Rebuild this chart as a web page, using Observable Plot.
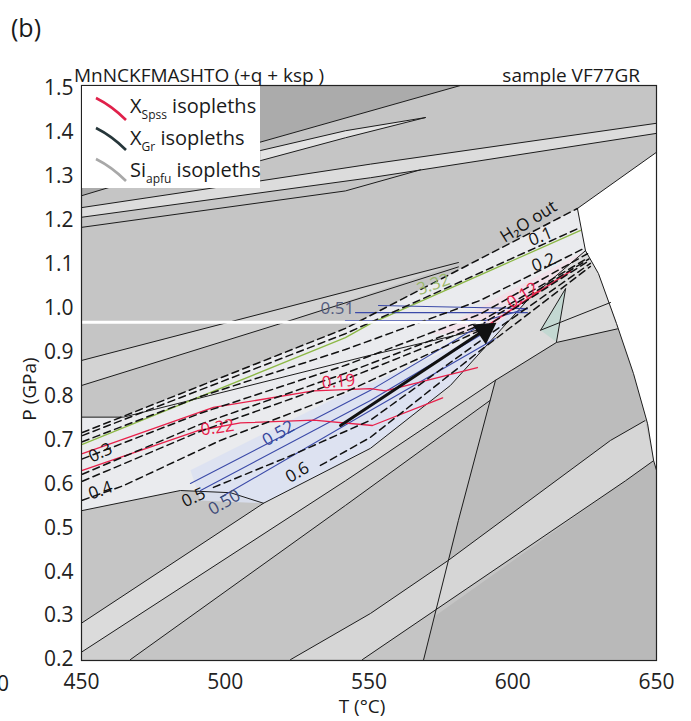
<!DOCTYPE html>
<html><head><meta charset="utf-8">
<script src="https://cdn.jsdelivr.net/npm/d3@7"></script>
<script src="https://cdn.jsdelivr.net/npm/@observablehq/plot@0.6"></script>
<style>
html,body{margin:0;padding:0;background:#fff;}
#chart{position:relative;width:691px;height:721px;overflow:hidden;}
</style></head><body><div id="chart"></div>
<script>
// ---- axes ----
const xTicks = [450, 500, 550, 600, 650];
const yTicks = [0.2, 0.3, 0.4, 0.5, 0.6, 0.7, 0.8, 0.9, 1.0, 1.1, 1.2, 1.3, 1.4, 1.5];

// ---- field polygons [T (°C), P (GPa)] ----
const fieldDark   = [[450,1.507],[581.8,1.507],[511.6,1.377],[450,1.256]];
const fieldLens   = [[512.3,1.359],[541.8,1.404],[569.6,1.434],[541.8,1.388],[512.3,1.336]];
const fieldBand   = [[450,1.229],[512.3,1.290],[550.5,1.328],[650,1.421],[650,1.398],[550.5,1.297],[450,1.207]];
const fieldMBand  = [[450,0.881],[581.1,1.102],[519.2,0.965],[450,0.824]];
const fieldLight  = [[450,0.539],[450,0.752],[463.7,0.752],[541.8,0.954],[622.5,1.227],[625.3,1.131],[605.1,1.018],[578.3,0.824],[550.5,0.681],[513.3,0.556],[501.8,0.580],[484.4,0.585]];
const tintBlue    = [[487.9,0.631],[536.6,0.790],[588.8,0.937],[605.1,1.018],[578.3,0.824],[550.5,0.681],[513.3,0.556],[491.4,0.562]];
const tintPink    = [[572,0.942],[600,1.043],[625.3,1.131],[605.1,1.018],[590,0.942]];
const fieldLowBand= [[450,0.283],[513.3,0.556],[550.5,0.681],[578.3,0.824],[605.1,1.018],[625.3,1.131],[629.8,1.079],[636.4,0.953],[615.2,0.922],[594,0.836],[541.8,0.607],[450,0.217]];
const fieldMid    = [[450,0.2],[450,0.217],[541.8,0.607],[594,0.836],[592.1,0.790],[541.8,0.551],[467,0.2]];
const fieldRDark  = [[594,0.836],[581.1,0.517],[577.6,0.426],[634,0.699],[646,0.744],[642,0.851],[636.4,0.953],[615.2,0.922]];
const fieldLRBand = [[522.7,0.2],[550.5,0.305],[577.6,0.426],[634,0.699],[646,0.744],[649,0.653],[639.2,0.607],[547.7,0.2]];
const fieldLRDark = [[569,0.2],[573.1,0.300],[639.2,0.607],[649,0.653],[650,0.631],[650,0.2]];
const fieldTeal   = [[609.7,0.950],[618.4,1.045],[615.2,0.923]];
const fieldWhite  = [[622.5,1.227],[650,1.355],[650,0.631],[649,0.653],[646.9,0.737],[642,0.851],[636.1,0.965],[629.8,1.079],[625.3,1.131]];

// ---- solid field boundaries ----
const bLine1  = [[450,1.256],[511.6,1.377],[581.8,1.507]];
const bLensU  = [[512.3,1.359],[541.8,1.404],[569.6,1.434]];
const bLensL  = [[512.3,1.336],[541.8,1.388],[569.6,1.434]];
const bBandU  = [[450,1.229],[512.3,1.290],[550.5,1.328],[650,1.421]];
const bBandL  = [[450,1.207],[550.5,1.297],[650,1.398]];
const bBand3  = [[450,1.184],[541.8,1.267],[567.9,1.315]];
const bWhiteT = [[622.5,1.227],[650,1.355]];
const bWhiteL = [[622.5,1.227],[625.3,1.131]];
const bCurve  = [[625.3,1.131],[629.8,1.079],[636.1,0.965],[642,0.851],[646.9,0.737],[649,0.653],[650,0.631]];
const bM1     = [[450,0.881],[581.1,1.104]];
const bM2     = [[450,0.824],[519.2,0.965],[581.1,1.094]];
const bM3     = [[450,0.752],[464.6,0.752],[550.5,0.893],[592.3,0.957]];
const bC      = [[450,0.539],[484.4,0.585],[501.8,0.580],[513.3,0.556]];
const bD1     = [[450,0.283],[513.3,0.556],[550.5,0.681],[578.3,0.824],[605.1,1.018],[625.3,1.131]];
const bD2     = [[450,0.217],[541.8,0.607],[594,0.836],[615.2,0.922],[636.4,0.953]];
const bD3     = [[467,0.2],[541.8,0.551],[592.1,0.790]];
const bS      = [[569,0.2],[581.1,0.517],[594,0.836]];
const bD4     = [[522.7,0.2],[550.5,0.305],[577.6,0.426],[634,0.699],[646,0.744]];
const bD5     = [[547.7,0.2],[639.2,0.607],[649,0.653]];
const bE2     = [[609.7,0.950],[634,1.013]];
const bTeal   = [[609.7,0.950],[618.4,1.045],[615.2,0.923]];

// ---- dashed H2O isopleths ----
const h2oOut = [[450.3,0.717],[541.8,0.954],[622.5,1.227]];
const h2o01  = [[450.3,0.710],[541.8,0.942],[623.6,1.184]];
const h2o02  = [[450.3,0.696],[491.4,0.799],[541.8,0.906],[588.8,1.018],[625.3,1.138]];
const h2o03  = [[450.3,0.657],[491.4,0.761],[541.8,0.870],[588.8,0.987],[626,1.124]];
const h2o03b = [[450.3,0.622],[491.4,0.736],[541.8,0.852],[588.8,0.970],[626.3,1.115]];
const h2o03c = [[450.3,0.606],[491.4,0.720],[541.8,0.838],[588.8,0.962],[626.5,1.112]];
const h2o04  = [[450.3,0.563],[464.6,0.596],[498.3,0.699],[541.8,0.809],[588.8,0.950],[626.7,1.109]];
const h2o05  = [[495.9,0.592],[522.7,0.664],[550.5,0.745],[588.8,0.926],[627,1.102]];
const h2o06  = [[533.1,0.642],[550.5,0.706],[588.8,0.904],[627,1.095]];

// ---- Si apfu (green), X_Gr (blue), X_Spss (red) ----
const si332  = [[450.3,0.690],[541.8,0.933],[550.5,0.965],[623.6,1.177]];
const gr52a  = [[487.9,0.601],[550.5,0.813],[590.5,0.968]];
const gr52b  = [[491.4,0.585],[550.5,0.790],[591.6,0.950]];
const gr52c  = [[498.3,0.569],[550.5,0.767],[594,0.931]];
const gr51a  = [[553.3,1.006],[605.1,0.999]];
const gr51b  = [[545.3,0.990],[605.1,0.990]];
const gr51c  = [[541.8,0.972],[590.5,0.972],[605.1,0.999]];
const sp19   = [[450.3,0.669],[495.9,0.774],[530.7,0.812],[550.5,0.817],[555.7,0.812],[587.7,0.865]];
const sp22   = [[450.3,0.631],[490.3,0.721],[505.3,0.739],[530.7,0.745],[551.2,0.733],[575.6,0.796]];
const sp12   = [[588.8,0.950],[612.4,1.052],[620,1.084]];

// ---- P-T path ----
const ptPath = [[540.1,0.733],[591.0,0.954]];
const ptHead = [[590.3,0.949]];
const whiteStreakP = [0.968];
const whiteStreakT = [450, 590];

// ---- isopleth labels ----
const labText  = ["H₂O out","0.1","0.2","0.3","0.4","0.5","0.6","0.50","0.52","0.51","3.32","0.12","0.19","0.22"];
const labT     = [605.5,609.7,610.7,456.6,456.6,489,525.1,499.7,518.5,539,572.4,603.4,539.4,497.3];
const labP     = [1.197,1.163,1.104,0.671,0.585,0.569,0.626,0.558,0.715,0.999,1.054,1.029,0.833,0.728];
const labAngle = [-32,-22,-22,-25,-20,-25,-30,-30,-30,0,-20,-32,-5,-8];
const labColor = ["#111","#111","#111","#111","#111","#111","#111","#3d4a78","#34449a","#555d80","#9ab86a","#e8204a","#e8204a","#e8204a"];
const labels = labText.map((s,i)=>({s, T:labT[i], P:labP[i], r:labAngle[i], c:labColor[i]}));

const XY = {x: d=>d[0], y: d=>d[1], clip: true};
const poly = (pts, fill, extra={}) => Plot.line(pts, {...XY, fill, stroke: "none", ...extra});
const ln = (pts, stroke, extra={}) => Plot.line(pts, {...XY, stroke, strokeWidth: 1, ...extra});
const dash = {strokeDasharray: "7,4.5", strokeWidth: 1.5};

const solid = [bLine1,bLensU,bLensL,bBandU,bBandL,bBand3,bWhiteT,bWhiteL,bCurve,bM1,bM2,bM3,bC,bD1,bD2,bD3,bS,bD4,bD5,bE2,bTeal];
const dashed = [h2oOut,h2o01,h2o02,h2o03,h2o03b,h2o03c,h2o04,h2o05,h2o06];

const svg = Plot.plot({
  width: 691, height: 721,
  marginLeft: 81, marginRight: 35, marginTop: 85, marginBottom: 61,
  x: {domain: [450, 650]},
  y: {domain: [0.198, 1.507]},
  color: {type: "identity"},
  style: {fontFamily: "'Open Sans', sans-serif", fontSize: "21px", color: "#222", background: "white", overflow: "visible"},
  marks: [
    Plot.frame({fill: "#c5c5c5", stroke: null}),
    poly(fieldDark, "#ababab"),
    poly(fieldLens, "#e2e2e2"),
    poly(fieldBand, "#dcdcdc"),
    poly(fieldMBand, "#d3d3d3"),
    poly(fieldLight, "#eaebee"),
    poly(tintBlue, "#dbe1f1", {fillOpacity: 0.85}),
    poly(tintPink, "#f3dfe7", {fillOpacity: 0.8}),
    poly(fieldLowBand, "#dbdbdb"),
    poly(fieldMid, "#cfcfcf"),
    poly(fieldRDark, "#bcbcbc"),
    poly(fieldLRBand, "#d6d6d6"),
    poly(fieldLRDark, "#b9b9b9"),
    poly(fieldTeal, "#c3d8d2"),
    poly(fieldWhite, "#ffffff"),
    ...solid.map(p => ln(p, "#1c1c1c")),
    ln(si332, "#8cb845", {strokeWidth: 1.3}),
    ...[gr52a, gr52b, gr52c, gr51a, gr51b, gr51c].map(p => ln(p, "#3b4aa8", {strokeWidth: 1.1})),
    ...[sp19, sp22].map(p => ln(p, "#e8204a", {strokeWidth: 1.3})),
    ln(sp12, "#e8204a", {strokeWidth: 1.6}),
    ...dashed.map(p => ln(p, "#111", dash)),
    Plot.ruleY(whiteStreakP, {x1: whiteStreakT[0], x2: whiteStreakT[1], stroke: "white", strokeWidth: 3}),
    ln(ptPath, "#111", {strokeWidth: 3}),
    Plot.dot(ptHead, {...XY, symbol: "triangle", r: 8, fill: "#111", stroke: "#111", rotate: 56}),
    Plot.text(labels, {x: "T", y: "P", text: "s", rotate: "r", fill: "c", fontSize: 17, clip: false}),
    Plot.frame({stroke: "#222", strokeWidth: 1.2}),
    Plot.axisX({ticks: xTicks, tickFormat: d => String(d), tickSize: 0, tickPadding: 14, label: null}),
    Plot.axisY({ticks: yTicks, tickFormat: d3.format(".1f"), tickSize: 0, tickPadding: 8, label: null})
  ]
});
document.getElementById("chart").appendChild(svg);

// ---- titles, legend (non-data decoration) ----
const s = d3.select(svg);
const F = "'Open Sans', sans-serif";
const T = (x, y, txt, size, opts={}) => {
  const t = s.append("text").attr("x", x).attr("y", y).attr("font-family", F)
    .attr("font-size", size).attr("fill", "#1a1a1a").attr("text-anchor", "start").text(txt);
  Object.entries(opts).forEach(([k,v]) => t.attr(k, v));
  return t;
};
T(11, 37, "(b)", 25);
T(74, 82, "MnNCKFMASHTO (+q + ksp )", 19);
T(640, 82, "sample VF77GR", 19, {"text-anchor": "end"});
T(9, 691, "0", 21, {"text-anchor": "end"});
T(362, 713, "T (°C)", 19, {"text-anchor": "middle"});
T(36, 389, "P (GPa)", 19, {"text-anchor": "middle", transform: "rotate(-90 36 389)"});

const lg = s.append("g");
lg.append("rect").attr("x", 82).attr("y", 86).attr("width", 178).attr("height", 102).attr("fill", "white");
const legendItems = [
  {c: "#e0204a", sym: "X", sub: "Spss", y: 113, ly: 98},
  {c: "#26363a", sym: "X", sub: "Gr", y: 145, ly: 128},
  {c: "#a8a8a8", sym: "Si", sub: "apfu", y: 177, ly: 159}
];
legendItems.forEach(it => {
  lg.append("path").attr("d", `M96,${it.ly} Q112,${it.ly+8} 126,${it.ly+22}`)
    .attr("fill", "none").attr("stroke", it.c).attr("stroke-width", 2.6);
  const t = lg.append("text").attr("x", 130).attr("y", it.y).attr("font-family", F)
    .attr("font-size", 20).attr("fill", "#1a1a1a").attr("text-anchor", "start");
  t.append("tspan").text(it.sym);
  t.append("tspan").attr("font-size", 12).attr("dy", 6).text(it.sub);
  t.append("tspan").attr("dy", -6).text(" isopleths");
});
</script></body></html>
